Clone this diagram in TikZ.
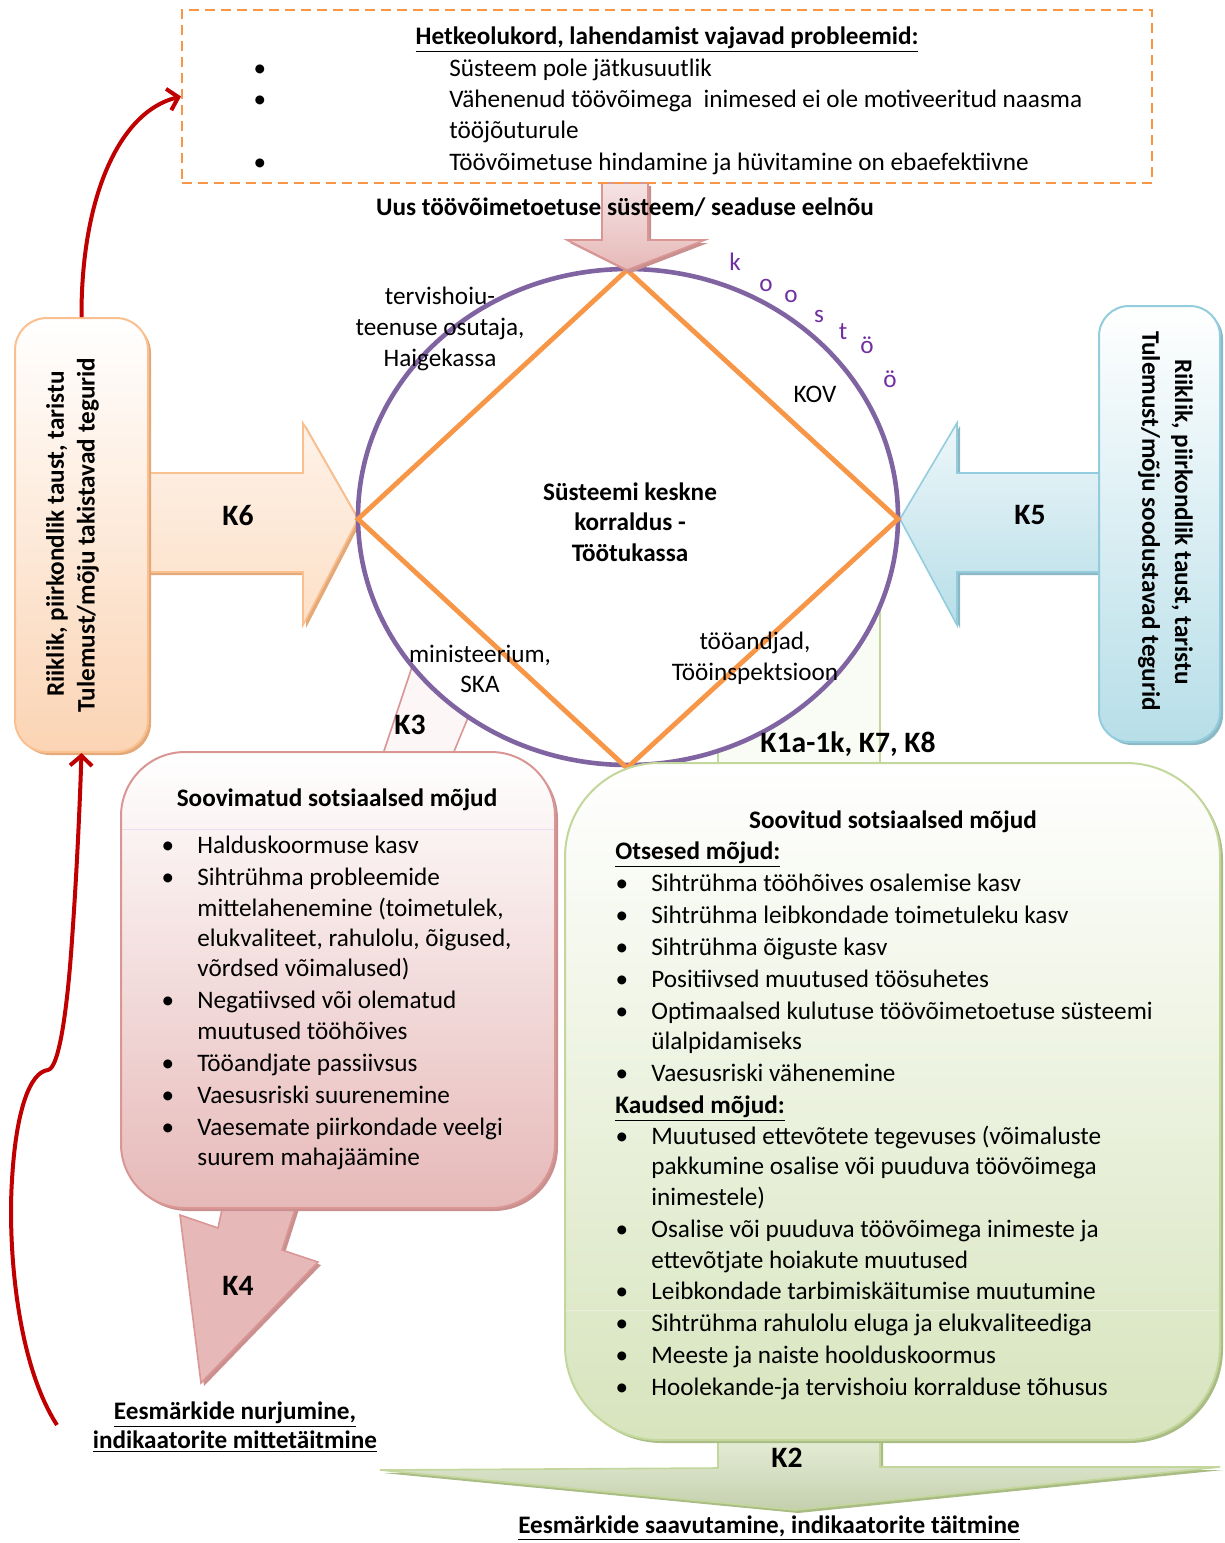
\documentclass[tikz,border=0pt]{standalone}
\usepackage{fontspec}
\setmainfont{Carlito}
\usetikzlibrary{arrows.meta,fit,shadows}
\definecolor{orng}{HTML}{F79646}
\definecolor{purp}{HTML}{8064A2}
\definecolor{koo}{HTML}{7030A0}
\definecolor{redarr}{HTML}{C00000}
\definecolor{peachB}{HTML}{FAC090}
\definecolor{peachF}{HTML}{FBD4B4}
\definecolor{peachS}{HTML}{E3A978}
\definecolor{blueB}{HTML}{93CDDD}
\definecolor{blueF}{HTML}{B7DEE8}
\definecolor{blueS}{HTML}{8CB8C4}
\definecolor{pinkB}{HTML}{D99694}
\definecolor{pinkF}{HTML}{E6B9B8}
\definecolor{pinkS}{HTML}{C9908F}
\definecolor{greenB}{HTML}{C3D69B}
\definecolor{greenF}{HTML}{D7E4BD}
\definecolor{greenS}{HTML}{A9BC84}
\begin{document}
\begin{tikzpicture}[x=0.5pt,y=-0.5pt,
  every node/.style={inner sep=0pt},
  font=\fontsize{12.6pt}{15.7pt}\selectfont,
  bt/.style={font=\fontsize{12.6pt}{15.7pt}\selectfont\bfseries},
  kl/.style={font=\fontsize{14.8pt}{17pt}\selectfont\bfseries},
  itm/.style={anchor=base west},
  bul/.style={anchor=base},
  cl/.style={anchor=base},
  shP/.style={drop shadow={shadow xshift=1.5pt,shadow yshift=-1.5pt,fill=pinkS,opacity=1}},
  shG/.style={drop shadow={shadow xshift=1.5pt,shadow yshift=-1.5pt,fill=greenS,opacity=1}},
  shO/.style={drop shadow={shadow xshift=1.5pt,shadow yshift=-1.5pt,fill=peachS,opacity=1}},
  shB/.style={drop shadow={shadow xshift=1.5pt,shadow yshift=-1.5pt,fill=blueS,opacity=1}},
  redc/.style={redarr, line width=2pt, -{Straight Barb[length=5pt,width=11pt]}}
]
\useasboundingbox (0,0) rectangle (1225,1543);

% shafts hidden behind the circle
\draw[pinkB, line width=0.8pt, fill=white!70!pinkF!40] (383,754) -- (421,640) -- (500,640) -- (453,754) -- cycle;
\draw[greenB, line width=0.8pt, fill=white!85!greenF] (718,560) rectangle (880,765);

% K6 and K5 block arrows
\draw[peachB, line width=0.8pt, top color=white!70!peachF, bottom color=peachF!90!orange!60, shO]
  (148,473) -- (303,473) -- (303,423) -- (358,519) -- (303,625) -- (303,572) -- (148,572) -- cycle;
\draw[blueB, line width=0.8pt, top color=white!75!blueF, bottom color=blueF, shB]
  (1099,473) -- (957,473) -- (957,423) -- (900,519) -- (957,625) -- (957,572) -- (1099,572) -- cycle;

% circle and diamond
\draw[purp, line width=2.3pt, fill=white] (628,517) ellipse [x radius=270, y radius=248];
\coordinate (dT) at (627,270);
\coordinate (dR) at (898,519);
\coordinate (dB) at (627,768);
\coordinate (dL) at (358,519);
\draw[orng, line width=2.4pt] (dT) -- (dR) -- (dB) -- (dL) -- cycle;

% top pink arrow
\draw[pinkB, line width=0.8pt, top color=white!60!pinkF, bottom color=pinkF, shP]
  (602,183) -- (648,183) -- (648,240) -- (705,240) -- (627,270) -- (567,240) -- (602,240) -- cycle;

% circle labels
\node[bt, cl] (ctr1) at (630,500) {Süsteemi keskne};
\node[bt, cl] (ctr2) at (630,530) {korraldus -};
\node[bt, cl] (ctr3) at (630,561) {Töötukassa};
\node[cl] (ter1) at (440,304) {tervishoiu-};
\node[cl] (ter2) at (440,335) {teenuse osutaja,};
\node[cl] (ter3) at (440,366) {Haigekassa};
\node[cl] (kov) at (815,402) {KOV};
\node[cl] (min1) at (480,662) {ministeerium,};
\node[cl] (min2) at (480,692) {SKA};
\node[cl] (toa1) at (755,649) {tööandjad,};
\node[cl] (toa2) at (755,680) {Tööinspektsioon};
\foreach \xx/\yy/\ch [count=\i] in {735/264/k, 766/285/o, 791/296/o, 819/316/s, 843/333/t, 867/347/ö, 890/381/ö}
  \node[cl, text=koo] (koo\i) at (\xx,\yy+6) {\ch};

% K labels
\node[kl] (k6) at (238,515) {K6};
\node[kl] (k5) at (1030,515) {K5};
\node[kl] (k3) at (410,725) {K3};
\node[kl] (k1) at (848,744) {K1a-1k, K7, K8};

% title of the new system
\node[bt, cl] (uus) at (625,215) {Uus töövõimetoetuse süsteem/ seaduse eelnõu};

% left and right boxes
\node[fit={(15,318)(148,752)}, rounded corners=16pt, draw=peachB, line width=1pt,
      top color=white, bottom color=peachF, shO] (lbox) {};
\node[bt, rotate=90] (lt1) at (57,534) {Riiklik, piirkondlik taust, taristu};
\node[bt, rotate=90] (lt2) at (88,535) {Tulemust/mõju takistavad tegurid};
\node[fit={(1099,306)(1220,742)}, rounded corners=15pt, draw=blueB, line width=1pt,
      top color=white, bottom color=blueF, shB] (rbox) {};
\node[bt, rotate=-90] (rt1) at (1182,522) {Riiklik, piirkondlik taust, taristu};
\node[bt, rotate=-90] (rt2) at (1149,521) {Tulemust/mõju soodustavad tegurid};

% K4 arrow and pink box
\draw[pinkB, line width=0.8pt, fill=pinkF, shP]
  (224,1200) -- (298,1200) -- (282,1250) -- (318,1262) -- (201,1383) -- (180,1215) -- (218,1228) -- cycle;
\node[kl] (k4) at (238,1286) {K4};
\node[fit={(121,752)(555,1208)}, rounded corners=32pt, draw=pinkB, line width=1pt,
      top color=white, bottom color=pinkF, shP] (pbox) {};
\draw[white!80!purp, line width=0.5pt] (122,829) -- (554,829);
\node[bt, cl] (ptitle) at (337,806) {Soovimatud sotsiaalsed mõjud};
\foreach \yy [count=\i] in {853,885,1008,1071,1103,1135}
  \node[bul] (pb\i) at (168,\yy) {•};
\foreach \yy/\txt [count=\i] in {853/{Halduskoormuse kasv}, 885/{Sihtrühma probleemide},
   916/{mittelahenemine (toimetulek,}, 946/{elukvaliteet, rahulolu, õigused,},
   976/{võrdsed võimalused)}, 1008/{Negatiivsed või olematud}, 1039/{muutused tööhõives},
   1071/{Tööandjate passiivsus}, 1103/{Vaesusriski suurenemine},
   1135/{Vaesemate piirkondade veelgi}, 1165/{suurem mahajäämine}}
  \node[itm] (pl\i) at (197,\yy) {\txt};

% K2 arrow and green box
\draw[greenB, line width=0.8pt, top color=white!40!greenF, bottom color=greenF!90!black!95, shG]
  (718,1435) -- (880,1435) -- (880,1467) -- (1220,1467) -- (795,1510) -- (380,1470) -- (718,1468) -- cycle;
\node[kl] (k2) at (787,1458) {K2};
\node[fit={(565,763)(1220,1440)}, rounded corners=47pt, draw=greenB, line width=1pt,
      top color=white, bottom color=greenF, shG] (gbox) {};
\draw[white!75!greenS, line width=0.5pt] (566,1310) -- (1219,1310);
\node[bt, cl] (gtitle) at (893,828) {Soovitud sotsiaalsed mõjud};
\node[bt, itm] (ots) at (615,859) {\underline{Otsesed mõjud:}};
\node[bt, itm] (kau) at (615,1113) {\underline{Kaudsed mõjud:}};
\foreach \yy [count=\i] in {891,923,955,987,1019,1081,1144,1237,1299,1331,1363,1395}
  \node[bul] (gb\i) at (622,\yy) {•};
\foreach \yy/\txt [count=\i] in {891/{Sihtrühma tööhõives osalemise kasv},
   923/{Sihtrühma leibkondade toimetuleku kasv}, 955/{Sihtrühma õiguste kasv},
   987/{Positiivsed muutused töösuhetes}, 1019/{Optimaalsed kulutuse töövõimetoetuse süsteemi},
   1049/{ülalpidamiseks}, 1081/{Vaesusriski vähenemine},
   1144/{Muutused ettevõtete tegevuses (võimaluste}, 1174/{pakkumine osalise või puuduva töövõimega},
   1205/{inimestele)}, 1237/{Osalise või puuduva töövõimega inimeste ja},
   1268/{ettevõtjate hoiakute muutused}, 1299/{Leibkondade tarbimiskäitumise muutumine},
   1331/{Sihtrühma rahulolu eluga ja elukvaliteediga}, 1363/{Meeste ja naiste hoolduskoormus},
   1395/{Hoolekande-ja tervishoiu korralduse tõhusus}}
  \node[itm] (gl\i) at (651,\yy) {\txt};

% goal texts
\node[bt, cl] (fail1) at (235,1419) {\underline{Eesmärkide nurjumine,}};
\node[bt, cl] (fail2) at (235,1448) {\underline{indikaatorite mittetäitmine}};
\node[bt, cl] (succ) at (769,1533) {\underline{Eesmärkide saavutamine, indikaatorite täitmine}};

% top box
\node[fit={(182,10)(1152,183)}, draw=orng, line width=1pt, dash pattern=on 5pt off 3pt] (topbox) {};
\node[bt, cl] (toptitle) at (667,44) {\underline{Hetkeolukord, lahendamist vajavad probleemid:}};
\foreach \yy [count=\i] in {76,107,170}
  \node[bul] (tb\i) at (260,\yy) {•};
\node[itm] (tl1) at (449,76) {Süsteem pole jätkusuutlik};
\node[itm] (tl2) at (449,107) {Vähenenud töövõimega\ \ inimesed ei ole motiveeritud naasma};
\node[itm] (tl3) at (449,138) {tööjõuturule};
\node[itm] (tl4) at (449,170) {Töövõimetuse hindamine ja hüvitamine on ebaefektiivne};

% red feedback arrows
\draw[redc] (lbox.north) .. controls (81,200) and (118,112) .. (topbox.west);
\coordinate (redstart) at (57,1425);
\draw[redc] (redstart) .. controls (15,1360) and (8,1240) .. (12,1180)
  .. controls (16,1110) and (30,1072) .. (48,1070)
  .. controls (60,1068) and (68,1000) .. (72,940)
  .. controls (77,870) and (80,800) .. (lbox.south);
\end{tikzpicture}
\end{document}
